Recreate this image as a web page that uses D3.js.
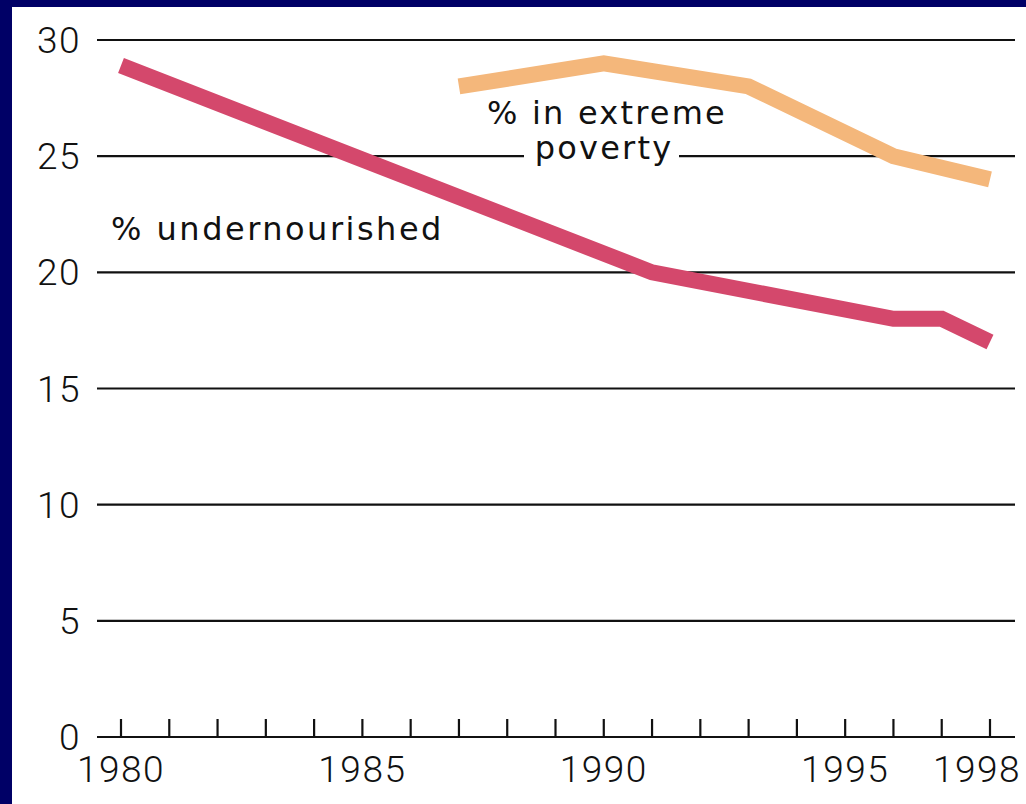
<!DOCTYPE html>
<html><head><meta charset="utf-8">
<script src="https://cdn.jsdelivr.net/npm/d3@7"></script>
<style>
html,body{margin:0;padding:0;background:#fff;overflow:hidden}
svg{display:block}
text{font-family:Roboto,"DejaVu Sans",sans-serif;fill:#111}
text.lbl{font-family:"DejaVu Sans",sans-serif;}
</style></head>
<body>
<svg id="c" width="1026" height="804"></svg>
<script>
const yTicks = [0, 5, 10, 15, 20, 25, 30];
const xTickLabels = [1980, 1985, 1990, 1995, 1998];
const xYears = d3.range(1980, 1999);
const undernourishedYears = [1980, 1991, 1996, 1997, 1998];
const undernourishedValues = [28.9, 20, 18, 18, 17];
const povertyYears = [1987, 1990, 1993, 1996, 1998];
const povertyValues = [28, 29, 28, 25, 24];

const svg = d3.select("#c");
// frame
svg.append("rect").attr("x",0).attr("y",0).attr("width",1026).attr("height",804).attr("fill","#000066");
svg.append("rect").attr("x",12).attr("y",7).attr("width",1014).attr("height",797).attr("fill","#ffffff");

const x = d3.scaleLinear().domain([1980,1998]).range([121,990]);
const y = d3.scaleLinear().domain([0,30]).range([737,40]);
const gx0 = 97, gx1 = 1015;

// gridlines
svg.append("g").selectAll("line").data(yTicks).join("line")
  .attr("x1",gx0).attr("x2",gx1).attr("y1",d=>y(d)).attr("y2",d=>y(d))
  .attr("stroke","#111").attr("stroke-width",2.2);

// y labels
svg.append("g").selectAll("text").data(yTicks).join("text")
  .attr("x",81).attr("y",d=>y(d)+13).attr("text-anchor","end")
  .attr("font-size",37).attr("font-weight",300).attr("letter-spacing",1.5).text(d=>d);

// x ticks
svg.append("g").selectAll("line").data(xYears).join("line")
  .attr("x1",d=>x(d)).attr("x2",d=>x(d)).attr("y1",719).attr("y2",737)
  .attr("stroke","#111").attr("stroke-width",2.2);
const xl = svg.append("g").selectAll("text").data(xTickLabels).join("text")
  .attr("x",d=>x(d)).attr("y",782).attr("text-anchor","middle")
  .attr("font-size",37).attr("font-weight",300).attr("letter-spacing",1.5).text(d=>d);
xl.each(function(d){
  const w = this.getComputedTextLength();
  const cx = Math.min(x(d), 1021 - w/2);
  d3.select(this).attr("x", cx);
});

const line = d3.line().x(d=>x(d[0])).y(d=>y(d[1]));

// poverty label with white background
svg.append("rect").attr("x",524).attr("y",140).attr("width",155).attr("height",30).attr("fill","#fff");

svg.append("path").datum(povertyYears.map((d,i)=>[d,povertyValues[i]]))
  .attr("d",line).attr("fill","none").attr("stroke","#f4b77b").attr("stroke-width",16)
  .attr("stroke-linejoin","miter").attr("stroke-linecap","butt");

svg.append("path").datum(undernourishedYears.map((d,i)=>[d,undernourishedValues[i]]))
  .attr("d",line).attr("fill","none").attr("stroke","#d4486c").attr("stroke-width",16)
  .attr("stroke-linejoin","miter").attr("stroke-linecap","butt");

svg.append("text").attr("class","lbl").attr("x",607).attr("y",124).attr("text-anchor","middle").attr("font-size",32).attr("letter-spacing",2.2).text("% in extreme");
svg.append("text").attr("class","lbl").attr("x",604).attr("y",159).attr("text-anchor","middle").attr("font-size",32).attr("letter-spacing",2.2).text("poverty");
svg.append("text").attr("class","lbl").attr("x",111).attr("y",240).attr("font-size",32).attr("letter-spacing",2.5).text("% undernourished");
</script>
</body></html>
